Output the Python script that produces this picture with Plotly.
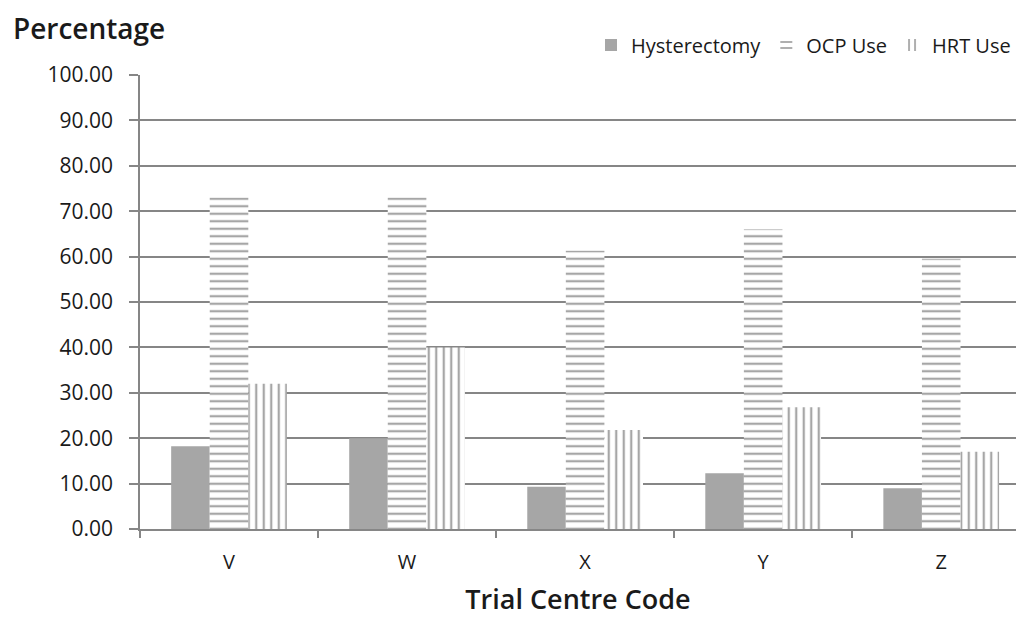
import plotly.graph_objects as go

centres = ["V", "W", "X", "Y", "Z"]
hysterectomy = [18.2, 20.0, 9.3, 12.3, 9.0]
ocp_use = [73.0, 73.0, 61.3, 66.0, 59.5]
hrt_use = [32.0, 40.0, 21.8, 26.8, 17.0]
y_ticks = [0, 10, 20, 30, 40, 50, 60, 70, 80, 90, 100]

GRAY = "#a6a6a6"
AXIS_GRAY = "#868686"
FONT = "Open Sans"
TEXT = "#1a1a1a"

fig = go.Figure()
fig.add_trace(go.Bar(x=centres, y=hysterectomy, name="Hysterectomy",
                     marker=dict(color=GRAY, line=dict(width=0))))
fig.add_trace(go.Bar(x=centres, y=ocp_use, name="OCP Use",
                     marker=dict(color="white", line=dict(width=0),
                                 pattern=dict(shape="-", fgcolor=GRAY, bgcolor="white",
                                              fgopacity=1, size=7.5, solidity=0.3,
                                              fillmode="overlay"))))
fig.add_trace(go.Bar(x=centres, y=hrt_use, name="HRT Use",
                     marker=dict(color="white", line=dict(width=0),
                                 pattern=dict(shape="|", fgcolor=GRAY, bgcolor="white",
                                              fgopacity=1, size=7.5, solidity=0.3,
                                              fillmode="overlay"))))

fig.update_layout(
    width=1016, height=617,
    margin=dict(l=140, r=0, t=75, b=88, autoexpand=False),
    paper_bgcolor="white", plot_bgcolor="white",
    barmode="group", bargap=0.35, bargroupgap=0,
    font=dict(family=FONT, color=TEXT, size=20),
    showlegend=True,
    legend=dict(orientation="h", x=1.0, xanchor="right", yref="container",
                y=1 - 45 / 617, yanchor="middle", font=dict(size=20, family=FONT, color=TEXT),
                itemwidth=30, traceorder="normal", bgcolor="rgba(0,0,0,0)"),
    xaxis=dict(type="category", range=[-0.5, 4.42], tickson="boundaries",
               ticks="outside", ticklen=7, tickcolor=AXIS_GRAY, tickwidth=1.5,
               showline=True, linecolor=AXIS_GRAY, linewidth=1.5,
               showgrid=False, automargin=False, ticklabelstandoff=14,
               tickfont=dict(size=20, family=FONT, color=TEXT),
               title=dict(text="Trial Centre Code",
                          font=dict(size=27, family=FONT, color=TEXT, weight=600),
                          standoff=16)),
    yaxis=dict(range=[0, 100], tickvals=y_ticks, tickformat=".2f",
               ticks="outside", ticklen=9, tickcolor=AXIS_GRAY, tickwidth=1.5,
               showline=True, linecolor=AXIS_GRAY, linewidth=1.5,
               showgrid=True, gridcolor=AXIS_GRAY, gridwidth=1.5,
               zeroline=False, automargin=False, ticklabelstandoff=12,
               tickfont=dict(size=21, family=FONT, color=TEXT)),
    annotations=[dict(text="Percentage", xref="paper", yref="paper",
                      x=0, xanchor="left", xshift=-129, y=1 + 47 / 454, yanchor="middle",
                      showarrow=False,
                      font=dict(size=28, family=FONT, color=TEXT, weight=600))],
)

fig.write_html("out.html", config={"displayModeBar": False},
               post_script="document.body.style.margin='0';document.body.style.padding='0';")
